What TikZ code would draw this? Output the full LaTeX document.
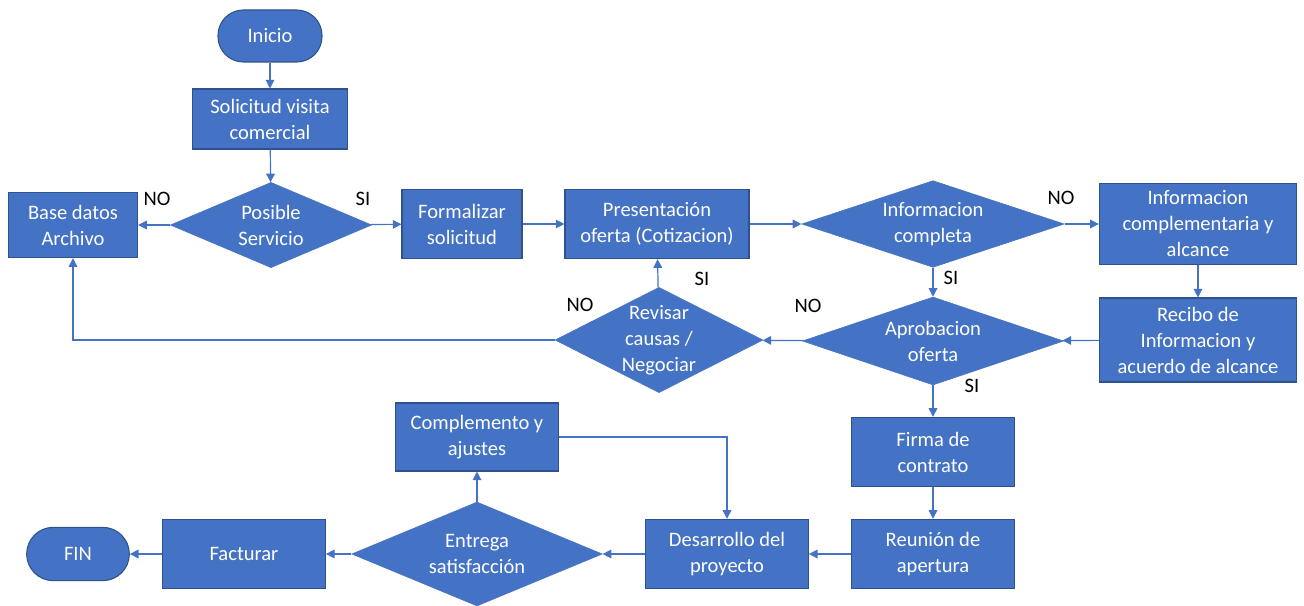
\documentclass[tikz,border=0pt]{standalone}
\usepackage{fontspec}
\setmainfont{Carlito}
\usetikzlibrary{shapes.geometric, arrows.meta, positioning, calc}
\definecolor{boxblue}{HTML}{4472C4}
\definecolor{boxline}{HTML}{2F528F}

\begin{document}
\begin{tikzpicture}[x=0.75pt, y=-0.75pt,
        font=\fontsize{15.4}{19.5}\selectfont,
        block/.style={rectangle, draw=boxline, line width=0.8pt, fill=boxblue, text=white, align=center, inner sep=2pt, minimum width=122pt, minimum height=52pt},
        terminal/.style={rectangle, rounded corners=19pt, draw=boxline, line width=0.8pt, fill=boxblue, text=white, minimum height=39pt},
        decision/.style={diamond, draw=boxblue, fill=boxblue, text=white, align=center, inner sep=0pt, shape aspect=3},
        flow/.style={-{Triangle[length=6.5pt, width=6.5pt]}, draw=boxblue, line width=0.9pt},
        answer/.style={font=\fontsize{15.4}{19.5}\selectfont, text=black}
    ]
        \useasboundingbox (0,0) rectangle (1304,606);

        % Nodes
        \node [terminal, minimum width=78pt] (inicio) at (270,36) {Inicio};
        \node [block, minimum width=116pt, minimum height=45pt] (solicitud) at (270,119) {Solicitud visita\\comercial};
        \node [decision, shape aspect=2.4, minimum width=151pt, minimum height=64pt] (posible) at (271,225) {Posible\\Servicio};
        \node [block, minimum width=97pt, minimum height=49pt] (archivo) at (73,225) {Base datos\\Archivo};
        \node [block, minimum width=90pt] (formalizar) at (462,224) {Formalizar\\solicitud};
        \node [block, minimum width=138pt] (oferta) at (657,224) {Presentación\\oferta (Cotizacion)};
        \node [decision, minimum width=197pt, minimum height=65pt] (completa) at (933,224) {Informacion\\completa};
        \node [block, minimum width=148pt, minimum height=61pt] (complementaria) at (1198,224) {Informacion\\complementaria y\\alcance};
        \node [block, minimum width=148pt, minimum height=63pt] (recibo) at (1198,340) {Recibo de\\Informacion y\\acuerdo de alcance};
        \node [decision, minimum width=196pt, minimum height=66pt] (aprobacion) at (933,341) {Aprobacion\\oferta};
        \node [decision, shape aspect=2, inner sep=-2pt, minimum width=156pt, minimum height=79pt] (revisar) at (659,340) {Revisar\\causas /\\Negociar};
        \node [block] (firma) at (933,452) {Firma de\\contrato};
        \node [block] (reunion) at (933,554) {Reunión de\\apertura};
        \node [block] (desarrollo) at (727,554) {Desarrollo del\\proyecto};
        \node [decision, shape aspect=2.4, minimum width=188pt, minimum height=78pt] (entrega) at (477,554) {Entrega\\satisfacción};
        \node [block, minimum height=51pt] (ajustes) at (477,437) {Complemento y\\ajustes};
        \node [block] (facturar) at (244,554) {Facturar};
        \node [terminal, minimum width=77pt, rounded corners=20pt, minimum height=40pt] (fin) at (78,554) {FIN};

        % Arrows
        \draw [flow] (inicio) -- (solicitud);
        \draw [flow] (solicitud) -- (posible);
        \draw [flow] (posible) -- (archivo);
        \draw [flow] (posible) -- (formalizar);
        \draw [flow] (formalizar) -- (oferta);
        \draw [flow] (oferta) -- (completa);
        \draw [flow] (completa) -- (complementaria);
        \draw [flow] (complementaria) -- (recibo);
        \draw [flow] (recibo) -- (aprobacion);
        \draw [flow] (completa) -- (aprobacion);
        \draw [flow] (aprobacion) -- (revisar);
        \draw [flow] (revisar) -- (oferta);
        \draw [flow] (revisar.west) -| (archivo.south);
        \draw [flow] (aprobacion) -- (firma);
        \draw [flow] (firma) -- (reunion);
        \draw [flow] (reunion) -- (desarrollo);
        \draw [flow] (desarrollo) -- (entrega);
        \draw [flow] (entrega) -- (ajustes);
        \draw [flow] (ajustes.east) -| (desarrollo.north);
        \draw [flow] (entrega) -- (facturar);
        \draw [flow] (facturar) -- (fin);

        % Labels
        \node [answer] (noposible) at (157,199) {NO};
        \node [answer] (siposible) at (363,199) {SI};
        \node [answer] (nocompleta) at (1061,198) {NO};
        \node [answer] (sicompleta) at (951,278) {SI};
        \node [answer] (noaprobacion) at (808,306) {NO};
        \node [answer] (norevisar) at (580,305) {NO};
        \node [answer] (sirevisar) at (702,279) {SI};
        \node [answer] (siaprobacion) at (972,386) {SI};
    \end{tikzpicture}
\end{document}
